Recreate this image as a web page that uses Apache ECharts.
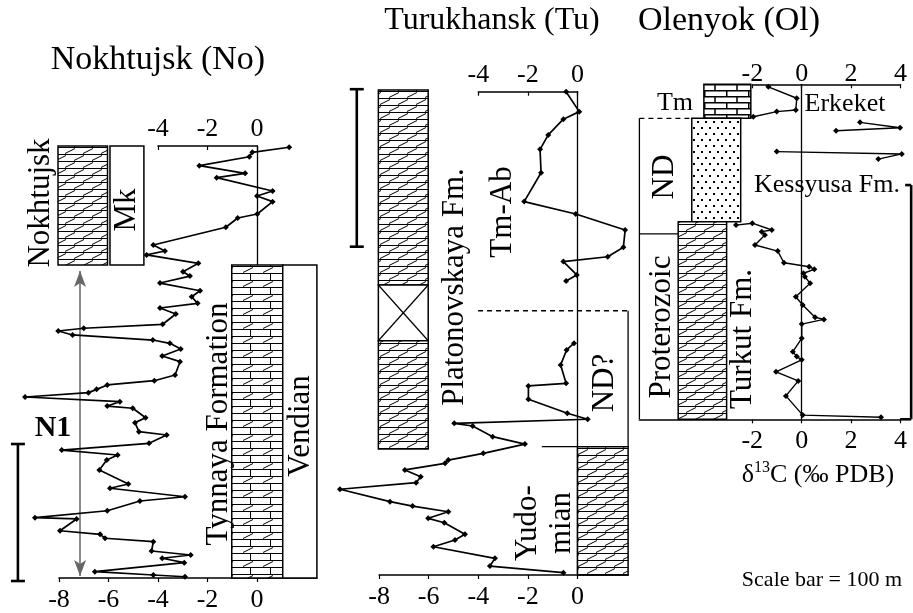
<!DOCTYPE html>
<html>
<head>
<meta charset="utf-8">
<script src="https://cdn.jsdelivr.net/npm/echarts@6/dist/echarts.min.js"></script>
<style>
  html, body { margin: 0; padding: 0; background: #fff; }
  #chart { width: 913px; height: 613px; }
</style>
</head>
<body>
<div id="chart"></div>
<script>
// ---- data: stratigraphic height (m above section base) and d13C (permil PDB)
// Nokhtujsk (No)
const noH = [314.4, 310.7, 307.5, 301.0, 295.4, 292.2, 282.5, 278.8, 274.7, 265.7, 262.8, 256.0,
  243.1, 238.7, 235.8, 229.7, 223.6, 220.4, 215.3, 209.7, 205.3, 200.5, 197.1, 192.7, 185.2,
  182.3, 180.3, 177.4, 173.7, 171.3, 167.2, 162.0, 157.9, 148.2, 144.0, 140.9, 137.7, 135.3,
  132.1, 128.7, 125.5, 123.9, 117.0, 113.4, 106.8, 104.4, 98.3, 93.4, 89.8, 86.1, 78.8, 68.6,
  65.5, 59.3, 56.2, 49.1, 44.0, 43.1, 34.5, 31.9, 29.0, 26.5, 19.7, 16.8, 14.4, 11.2, 4.6, 2.2, 0.9];
const noV = [1.3, -0.19, -0.31, -2.33, -0.48, -1.63, 0.63, 0.0, 0.63, 0.01, -0.78, -1.26,
  -4.19, -3.72, -4.46, -2.37, -2.99, -2.71, -3.92, -2.30, -2.64, -2.40, -3.92, -3.28, -3.81,
  -7.0, -8.03, -7.45, -4.21, -3.52, -3.08, -3.83, -3.11, -3.31, -4.15, -6.05, -6.48, -6.81,
  -9.37, -5.54, -6.05, -5.02, -4.50, -4.93, -4.77, -3.65, -4.36, -7.89, -5.63, -6.07, -6.37, -5.20,
  -5.94, -2.91, -4.73, -6.05, -8.97, -7.29, -7.96, -6.34, -6.14, -4.19, -4.26, -2.68, -3.83, -2.94, -6.55, -4.19, -2.91];

// Turukhansk (Tu), null = gap in the record
const tuH = [307.8, 295.1, 290.3, 280.3, 271.1, 256.2, 237.8, 229.9, 219.7, 208.7, 202.7, 199.6, 191.1, 187.3,
  null,
  147.6, 143.3, 133.8, 122.1, 120.4, 111.9, 103.0, 99.2, 96.6, 94.9, 88.1, 83.4, 77.5, 73.2, 71.1,
  66.9, 62.6, 58.8, 54.6, 46.7, 43.9, 40.3, 36.1, 33.3, 25.9, 22.3, 18.0, 10.6, 5.7, 1.5];
const tuV = [-0.46, 0.07, -0.57, -1.18, -1.51, -1.47, -2.15, -0.07, 1.92, 1.85, 1.22, -0.57, -0.03, -0.46,
  null,
  -0.14, -0.44, -0.68, -0.46, -1.98, -1.98, -0.41, 0.41, -4.97, -4.23, -3.42, -2.12, -3.80, -5.21, -5.34,
  -6.96, -6.32, -6.51, -9.58, -7.56, -6.65, -5.21, -6.02, -5.37, -4.54, -4.94, -5.81, -3.33, -3.53, -0.57];

// Olenyok (Ol)
const olH = [142.1, 137.2, 132.2, 131.5, 129.3, null, 126.9, 124.6, 123.3, null, 114.4, 113.4, 111.2, null,
  83.0, 83.8, 80.9, 80.2, 78.8, 74.5, 71.9, 66.9, 65.2, 64.1, 62.4, 60.9, 58.1, 52.4, 48.8, 43.6, 42.7,
  40.7, 34.6, 28.9, 26.8, 25.4, 20.3, 16.4, 10.0, 1.8, 0.9];
const olV = [-1.35, -0.20, -0.24, -1.01, -1.96, null, 2.36, 3.98, 1.39, null, -1.01, 4.05, 3.10, null,
  -2.66, -2.0, -1.21, -1.62, -1.49, -1.89, -0.97, -0.72, 0.30, 0.51, 0.07, 0.13, 0.34, -0.24, 0.04, 0.54, 0.90,
  0, 0, -0.36, -0.20, 0, -1.04, -0.14, -0.64, 0.04, 3.21];

// tick labels
const noTicksBottom = [-8, -6, -4, -2, 0];
const tuTicksBottom = [-8, -6, -4, -2, 0];
const olTicksBottom = [-2, 0, 2, 4];

// lithology intervals: base, top (m), kind
const noLithBase = [228.5, 228.5, 0, 0];
const noLithTop = [315.3, 315.3, 228.5, 228.5];
const noLithKind = ['dolomite', 'blank', 'dololime', 'blank'];
const tuLithBase = [184.7, 149.2, 80.3, 0];
const tuLithTop = [308.9, 184.7, 149.2, 81.7];
const tuLithKind = ['dolomite', 'gap', 'dolomite', 'dolomite'];
const olLithBase = [128.6, 84.4, 0];
const olLithTop = [143.2, 128.6, 84.4];
const olLithKind = ['limestone', 'sand', 'dolomite'];

// ---- layout
const FONT = '"Liberation Serif", "Times New Roman", serif';
const noCols = [[-8.04, -6.04], [-5.94, -4.57], [-1.02, 1.04], [1.04, 2.42]];
const tuCols = [[-8.03, -6.02], [-8.03, -6.02], [-8.03, -6.02], [0, 2.04]];
const olCols = [[-3.96, -2.06], [-4.45, -2.47], [-5.0, -3.04]];
// boundary lines [x1, h1, x2, h2, dashed]
const tuBounds = [[-4.01, 168.3, 2.04, 168.3, 1], [2.04, 168.3, 2.04, 81.7, 0], [-1.44, 81.7, 0, 81.7, 0]];
const olBounds = [[-6.57, 128.6, -4.45, 128.6, 1], [-6.57, 128.6, -6.57, 0, 0], [-6.57, 79.2, -5.0, 79.2, 0]];

function makePattern(kind) {
  const c = document.createElement('canvas');
  const sz = { dolomite: [18, 14], dololime: [20, 14], limestone: [22, 12], sand: [8, 12] }[kind];
  c.width = sz[0]; c.height = sz[1];
  const g = c.getContext('2d');
  g.fillStyle = '#fff'; g.fillRect(0, 0, c.width, c.height);
  g.strokeStyle = '#000'; g.fillStyle = '#000'; g.lineWidth = 1;
  g.beginPath();
  if (kind === 'dolomite') {
    g.moveTo(0, 0.5); g.lineTo(18, 0.5); g.moveTo(0, 7.5); g.lineTo(18, 7.5);
    g.moveTo(2, 6.5); g.lineTo(12, 1.5);
    g.moveTo(11, 13.5); g.lineTo(21, 8.5); g.moveTo(-7, 13.5); g.lineTo(3, 8.5);
  } else if (kind === 'dololime') {
    g.moveTo(0, 0.5); g.lineTo(20, 0.5); g.moveTo(0, 7.5); g.lineTo(20, 7.5);
    g.moveTo(3, 6.5); g.lineTo(13, 1.5);
    g.moveTo(10.5, 7.5); g.lineTo(10.5, 14);
  } else if (kind === 'limestone') {
    g.lineWidth = 1.5;
    g.moveTo(0, 0.75); g.lineTo(22, 0.75); g.moveTo(0, 6.75); g.lineTo(22, 6.75);
    g.moveTo(11, 0.75); g.lineTo(11, 6.75); g.moveTo(0.75, 6.75); g.lineTo(0.75, 12);
  } else if (kind === 'sand') {
    g.fillRect(1, 1, 2, 2); g.fillRect(5, 7, 2, 2);
  }
  g.stroke();
  return { image: c, repeat: 'repeat' };
}
const patterns = {};
['dolomite', 'dololime', 'limestone', 'sand'].forEach(k => { patterns[k] = makePattern(k); });

function zip(h, v) {
  // split into segments at nulls
  const segs = [[]];
  h.forEach((hh, i) => {
    if (hh === null) segs.push([]);
    else segs[segs.length - 1].push([v[i], hh]);
  });
  return segs;
}

function lithSeries(ax, cols, base, top, kind) {
  const items = cols.map((c, i) => [c[0], c[1], base[i], top[i]]);
  return {
    type: 'custom', xAxisIndex: ax, yAxisIndex: ax, silent: true, z: 3,
    data: items, encode: { x: [0, 1], y: [2, 3] },
    renderItem: (params, api) => {
      const i = params.dataIndex;
      const p1 = api.coord([api.value(0), api.value(3)]);
      const p2 = api.coord([api.value(1), api.value(2)]);
      const k = kind[i];
      const shape = { x: p1[0], y: p1[1], width: p2[0] - p1[0], height: p2[1] - p1[1] };
      const kids = [{
        type: 'rect', shape,
        style: { fill: patterns[k] || '#fff', stroke: '#000', lineWidth: 1.5 }
      }];
      if (k === 'gap') {
        kids.push({ type: 'line', shape: { x1: p1[0], y1: p1[1], x2: p2[0], y2: p2[1] }, style: { stroke: '#000', lineWidth: 1.2 } });
        kids.push({ type: 'line', shape: { x1: p2[0], y1: p1[1], x2: p1[0], y2: p2[1] }, style: { stroke: '#000', lineWidth: 1.2 } });
      }
      return { type: 'group', children: kids };
    }
  };
}

function boundSeries(ax, bounds) {
  return {
    type: 'custom', xAxisIndex: ax, yAxisIndex: ax, silent: true, z: 3,
    data: bounds, encode: { x: [0, 2], y: [1, 3] },
    renderItem: (params, api) => {
      const a = api.coord([api.value(0), api.value(1)]);
      const b = api.coord([api.value(2), api.value(3)]);
      return {
        type: 'line', shape: { x1: a[0], y1: a[1], x2: b[0], y2: b[1] },
        style: { stroke: '#000', lineWidth: 1.3, lineDash: api.value(4) ? [5, 4] : null }
      };
    }
  };
}

// scale bar: vertical bar with caps
function barSeries(ax, bar, capL1, capL2, capR) {
  return {
    type: 'custom', xAxisIndex: ax, yAxisIndex: ax, silent: true, z: 4, clip: false,
    data: [bar], encode: { x: 0, y: [1, 2] },
    renderItem: (params, api) => {
      const a = api.coord([api.value(0), api.value(2)]);
      const b = api.coord([api.value(0), api.value(1)]);
      const st = { stroke: '#000', lineWidth: 2.6 };
      return {
        type: 'group', children: [
          { type: 'line', shape: { x1: a[0], y1: a[1], x2: b[0], y2: b[1] }, style: st },
          { type: 'line', shape: { x1: a[0] - capL1, y1: a[1], x2: a[0] + capR, y2: a[1] }, style: st },
          { type: 'line', shape: { x1: b[0] - capL2, y1: b[1], x2: b[0] + capR, y2: b[1] }, style: st }
        ]
      };
    }
  };
}

function curveSeries(ax, segs, width) {
  return segs.map(s => ({
    type: 'line', xAxisIndex: ax, yAxisIndex: ax, data: s, silent: true, z: 5,
    symbol: 'diamond', symbolSize: 6, showSymbol: true,
    lineStyle: { color: '#000', width: width }, itemStyle: { color: '#000' }
  }));
}

const axisLbl = { fontFamily: FONT, fontSize: 26, color: '#000' };
// main grid: hidden x axis (wide range so every point is inside), y axis drawn at x = 0
function mainX(grid, min, max) {
  return { gridIndex: grid, type: 'value', min, max, show: false, axisLine: { onZero: false } };
}
function mainY(grid, max) {
  return {
    gridIndex: grid, type: 'value', min: 0, max,
    axisLine: { show: true, onZero: true, lineStyle: { color: '#000', width: 1.3 } },
    axisTick: { show: false }, axisLabel: { show: false }, splitLine: { show: false }
  };
}
function bottomX(grid, min, max, ticks) {
  return {
    gridIndex: grid, type: 'value', min, max, position: 'bottom',
    axisLine: { show: true, onZero: false, lineStyle: { color: '#000', width: 1.5 } },
    axisTick: { show: true, customValues: ticks, length: 4, lineStyle: { color: '#000', width: 1.2 } },
    axisLabel: Object.assign({ customValues: ticks, margin: 9 }, axisLbl),
    splitLine: { show: false }
  };
}
function topX(grid, min, max, margin) {
  return {
    gridIndex: grid, type: 'value', min, max, interval: 2, position: 'top',
    axisLine: { show: true, onZero: false, lineStyle: { color: '#000', width: 1.5 } },
    axisTick: { show: true, inside: true, length: 4, lineStyle: { color: '#000', width: 1.2 } },
    axisLabel: Object.assign({ margin }, axisLbl),
    splitLine: { show: false }
  };
}
function hiddenY(grid) {
  return { gridIndex: grid, type: 'value', min: 0, max: 1, show: false };
}

const labels = [
  { t: 'Nokhtujsk (No)', x: 158, y: 60, s: 34 },
  { t: 'Turukhansk (Tu)', x: 492, y: 21, s: 32 },
  { t: 'Olenyok (Ol)', x: 729, y: 21, s: 34 },
  { t: 'Nokhtujsk', x: 41, y: 203, s: 31, r: 1 },
  { t: 'Mk', x: 127, y: 210, s: 31, r: 1 },
  { t: 'Tynnaya Formation', x: 219, y: 424, s: 31, r: 1 },
  { t: 'Vendian', x: 301, y: 426, s: 31, r: 1 },
  { t: 'N1', x: 53, y: 428, s: 30, b: 1 },
  { t: 'Platonovskaya Fm.', x: 455, y: 287, s: 31, r: 1 },
  { t: 'Tm-Ab', x: 503, y: 212, s: 31, r: 1 },
  { t: 'ND?', x: 605, y: 383, s: 31, r: 1 },
  { t: 'Yudo-\nmian', x: 545, y: 523, s: 31, r: 1, lh: 34 },
  { t: 'ND', x: 665, y: 177, s: 31, r: 1 },
  { t: 'Proterozoic', x: 662, y: 327, s: 31, r: 1 },
  { t: 'Turkut Fm.', x: 743, y: 339, s: 31, r: 1 },
  { t: 'Tm', x: 675, y: 103, s: 26 },
  { t: 'Erkeket', x: 845, y: 104, s: 26 },
  { t: 'Kessyusa Fm.', x: 827, y: 185, s: 26 },
  { t: 'Scale bar = 100 m', x: 822, y: 580, s: 22 }
];
const graphics = labels.map(l => ({
  type: 'text', x: l.x, y: l.y, rotation: l.r ? Math.PI / 2 : 0, z: 10, silent: true,
  style: {
    text: l.t, fill: '#000', font: (l.b ? 'bold ' : '') + l.s + 'px ' + FONT,
    textAlign: 'center', textVerticalAlign: 'middle', verticalAlign: 'middle',
    lineHeight: l.lh || l.s
  }
}));
graphics.push({
  type: 'text', x: 818, y: 475, z: 10, silent: true,
  style: {
    text: '{a|δ}{s|13}{a|C (‰ PDB)}', textAlign: 'center', textVerticalAlign: 'middle', verticalAlign: 'middle',
    rich: {
      a: { fontFamily: FONT, fontSize: 26, lineHeight: 30, fill: '#000', color: '#000' },
      s: { fontFamily: FONT, fontSize: 16, lineHeight: 14, verticalAlign: 'top', fill: '#000', color: '#000' }
    }
  }
});

const noSeries = curveSeries(0, zip(noH, noV), 1.7);
noSeries[0].markLine = {
  silent: true, symbol: ['arrow', 'arrow'], symbolSize: [9, 16], animation: false,
  lineStyle: { color: '#666', width: 1.5, type: 'solid' }, label: { show: false },
  data: [[{ coord: [-7.15, 224] }, { coord: [-7.15, 1.5] }]]
};

// pixels per permil / per metre are fixed per panel; grids are placed so that
// main (curve) grid and its axis-only grids share the same scale
const option = {
  animation: false,
  backgroundColor: '#fff',
  grid: [
    { left: 9.5, top: 146, width: 307.4, height: 432 },      // 0 No main  (-10 .. 2.42)
    { left: 158, top: 146, width: 99, height: 10 },          // 1 No top axis
    { left: 59, top: 568, width: 257.9, height: 10 },        // 2 No bottom axis
    { left: 329.5, top: 91.7, width: 298.6, height: 483.3 }, // 3 Tu main (-10 .. 2.04)
    { left: 478.3, top: 91.7, width: 99.2, height: 10 },     // 4 Tu top axis
    { left: 379.1, top: 565, width: 249, height: 10 },       // 5 Tu bottom axis
    { left: 639.4, top: 84.3, width: 273.5, height: 335 },   // 6 Ol main (-6.57 .. 4.5)
    { left: 752.3, top: 84.3, width: 148.2, height: 10 },    // 7 Ol top axis
    { left: 639.4, top: 409.3, width: 261.1, height: 10 }    // 8 Ol bottom axis
  ],
  xAxis: [
    mainX(0, -10, 2.42),
    topX(1, -4, 0, 4),
    bottomX(2, -8, 2.42, noTicksBottom),
    mainX(3, -10, 2.04),
    topX(4, -4, 0, 4),
    bottomX(5, -8, 2.04, tuTicksBottom),
    mainX(6, -6.57, 4.5),
    topX(7, -2, 4, -3),
    bottomX(8, -6.57, 4, olTicksBottom)
  ],
  yAxis: [
    mainY(0, 315.33), hiddenY(1), hiddenY(2),
    mainY(3, 307.8), hiddenY(4), hiddenY(5),
    mainY(6, 143.16), hiddenY(7), hiddenY(8)
  ],
  graphic: graphics,
  series: [
    lithSeries(0, noCols, noLithBase, noLithTop, noLithKind),
    lithSeries(3, tuCols, tuLithBase, tuLithTop, tuLithKind),
    lithSeries(6, olCols, olLithBase, olLithTop, olLithKind),
    boundSeries(3, tuBounds),
    boundSeries(6, olBounds),
    barSeries(0, [-9.66, -2.2, 97.8], 7, 7, 7),
    barSeries(3, [-8.9, 209.1, 309.4], 7, 7, 7),
    barSeries(6, [4.43, 0, 100.1], 6, 11, 0)
  ].concat(noSeries, curveSeries(3, zip(tuH, tuV), 1.7), curveSeries(6, zip(olH, olV), 1.4))
};

const chart = echarts.init(document.getElementById('chart'), null, { renderer: 'canvas' });
chart.setOption(option);
</script>
</body>
</html>
